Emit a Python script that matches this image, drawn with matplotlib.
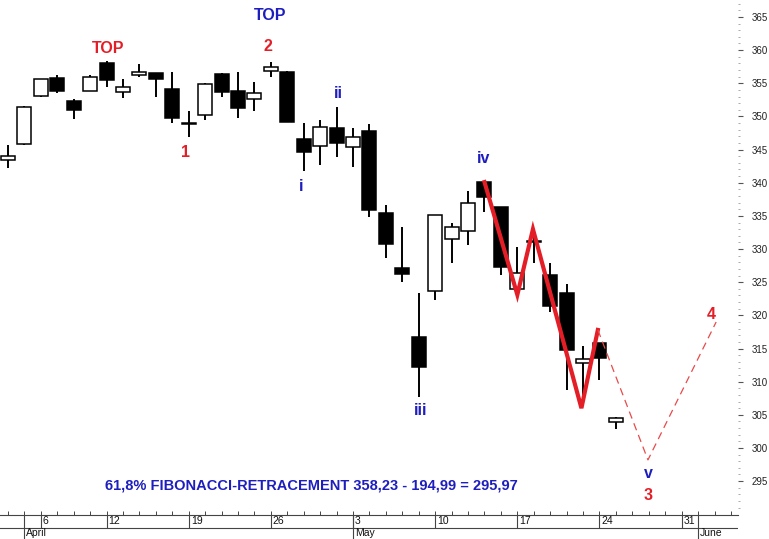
import matplotlib.pyplot as plt
from matplotlib.patches import Rectangle

# daily candles: open, high, low, close (trading day index = position in list)
opens = [343.4, 345.8, 353.1, 355.8, 352.3, 353.8, 358.1, 353.7, 356.25, 356.55,
         354.1, 349.0, 350.2, 356.4, 353.8, 352.6, 356.9, 356.7, 346.6, 345.5,
         348.25, 345.4, 347.8, 335.4, 327.1, 316.7, 323.7, 331.5, 332.7, 340.1,
         336.3, 324.0, 331.2, 326.1, 323.4, 312.8, 315.8, 303.9]
highs = [345.7, 351.5, 355.7, 356.2, 352.6, 356.3, 358.4, 355.6, 357.9, 356.6,
         356.7, 350.8, 355.0, 356.5, 356.7, 355.2, 358.2, 356.8, 349.0, 349.5,
         351.4, 348.25, 348.9, 336.6, 333.3, 323.4, 335.2, 333.9, 338.8, 340.2,
         336.4, 330.3, 332.9, 327.9, 324.7, 315.4, 315.9, 304.7]
lows = [342.2, 345.7, 352.9, 353.5, 349.6, 353.8, 354.4, 352.8, 355.9, 352.9,
        349.0, 346.9, 349.5, 352.9, 349.8, 350.8, 355.9, 349.1, 341.8, 342.7,
        343.9, 342.4, 334.8, 328.6, 325.0, 307.7, 322.3, 327.9, 330.6, 335.6,
        326.1, 323.9, 327.9, 320.5, 308.7, 308.0, 310.2, 302.9]
closes = [344.0, 351.4, 355.6, 353.8, 351.0, 355.95, 355.5, 354.4, 356.7, 355.6,
          349.8, 348.8, 354.9, 353.7, 351.3, 353.5, 357.5, 349.2, 344.6, 348.4,
          346.0, 346.9, 335.9, 330.8, 326.2, 312.2, 335.1, 333.3, 336.9, 337.85,
          327.3, 326.4, 331.0, 321.4, 314.8, 313.4, 313.6, 304.5]

# elliott wave count drawn over the candles
wave_x = [29, 31.0, 31.95, 34.9, 35.9]
wave_y = [340.1, 323.1, 333.0, 306.0, 317.8]
proj_x = [35.9, 38.95, 43.1]
proj_y = [317.8, 298.2, 319.0]

# date axis
day_pos = [2, 6, 11, 16, 21, 26, 31, 36, 41]
day_labels = ['6', '12', '19', '26', '3', '10', '17', '24', '31']
month_pos = [1, 21, 42]
month_labels = ['April', 'May', 'June']

RED = '#e41e26'
BLUE = '#1e1ebe'
FONT = 'Liberation Sans'

# labels: text, x, y, colour
labels = [
    ('TOP', 6.09, 360.2, RED), ('TOP', 15.95, 365.15, BLUE),
    ('2', 15.82, 360.5, RED), ('1', 10.83, 344.6, RED),
    ('ii', 20.09, 353.4, BLUE), ('i', 17.83, 339.5, BLUE),
    ('iv', 28.97, 343.7, BLUE), ('iii', 25.14, 305.7, BLUE),
    ('v', 38.95, 296.1, BLUE), ('3', 38.95, 292.8, RED),
    ('4', 42.79, 320.2, RED),
]

W, H = 769, 539
fig = plt.figure(figsize=(W / 100, H / 100), dpi=100)
ax = fig.add_axes([0, 24 / H, 738 / W, 515 / H])
xlim = (-0.487, 44.43)
ax.set_xlim(*xlim)
ax.set_ylim(289.89, 367.56)

bw = 0.85
for i in range(len(opens)):
    o, h, l, c = opens[i], highs[i], lows[i], closes[i]
    ax.vlines(i, l, h, color='black', lw=1.4, zorder=2)
    lo = min(o, c)
    hgt = max(abs(c - o), 0.25)
    fc = 'white' if c > o else 'black'
    ax.add_patch(Rectangle((i - bw / 2, lo), bw, hgt, facecolor=fc,
                           edgecolor='black', lw=1.1, zorder=3))

ax.plot(wave_x, wave_y, color=RED, lw=3, zorder=4, solid_joinstyle='miter')
ax.plot(proj_x, proj_y, color='#e84a4a', lw=0.9, dashes=(6, 4), zorder=4)

for txt, x, y, col in labels:
    ax.text(x, y, txt, color=col, fontsize=11.5, fontweight='bold',
            family=FONT, ha='center', va='center')

ax.text(18.44, 294.4, '61,8% FIBONACCI-RETRACEMENT 358,23 - 194,99 = 295,97',
        color=BLUE, fontsize=10.5, fontweight='bold', family=FONT,
        ha='center', va='center')

for s in ['top', 'left', 'right']:
    ax.spines[s].set_visible(False)
ax.spines['bottom'].set_color('#444444')
ax.spines['bottom'].set_linewidth(0.8)

ax.set_xticks([])
ax.set_xticks(range(0, 45), minor=True)
ax.tick_params(axis='x', which='minor', direction='in', length=3,
               color='#444444', width=0.7)

ax.yaxis.tick_right()
ax.set_yticks(range(295, 366, 5))
ax.set_yticks(range(291, 368), minor=True)
ax.tick_params(axis='y', which='major', direction='out', length=3.5,
               width=0.8, color='#555555', pad=6, labelsize=7,
               labelcolor='#222222')
ax.tick_params(axis='y', which='minor', direction='out', length=1.5,
               width=0.7, color='#aaaaaa')
for t in ax.get_yticklabels():
    t.set_family(FONT)

# date strip below the chart
dax = fig.add_axes([0, 0, 738 / W, 24 / H])
dax.set_xlim(*xlim)
dax.set_ylim(0, 24)
dax.axis('off')
dax.axhline(11, color='#444444', lw=0.8)
dax.vlines(day_pos, 11, 24, color='#444444', lw=0.8)
dax.vlines(month_pos, 0, 24, color='#444444', lw=0.8)
for p, t in zip(day_pos, day_labels):
    dax.text(p + 0.12, 23, t, fontsize=7.5, family=FONT, ha='left',
             va='top', color='#111111')
for p, t in zip(month_pos, month_labels):
    dax.text(p + 0.12, 10.5, t, fontsize=7.5, family=FONT, ha='left',
             va='top', color='#111111')

fig.savefig('out.png', dpi=100)
